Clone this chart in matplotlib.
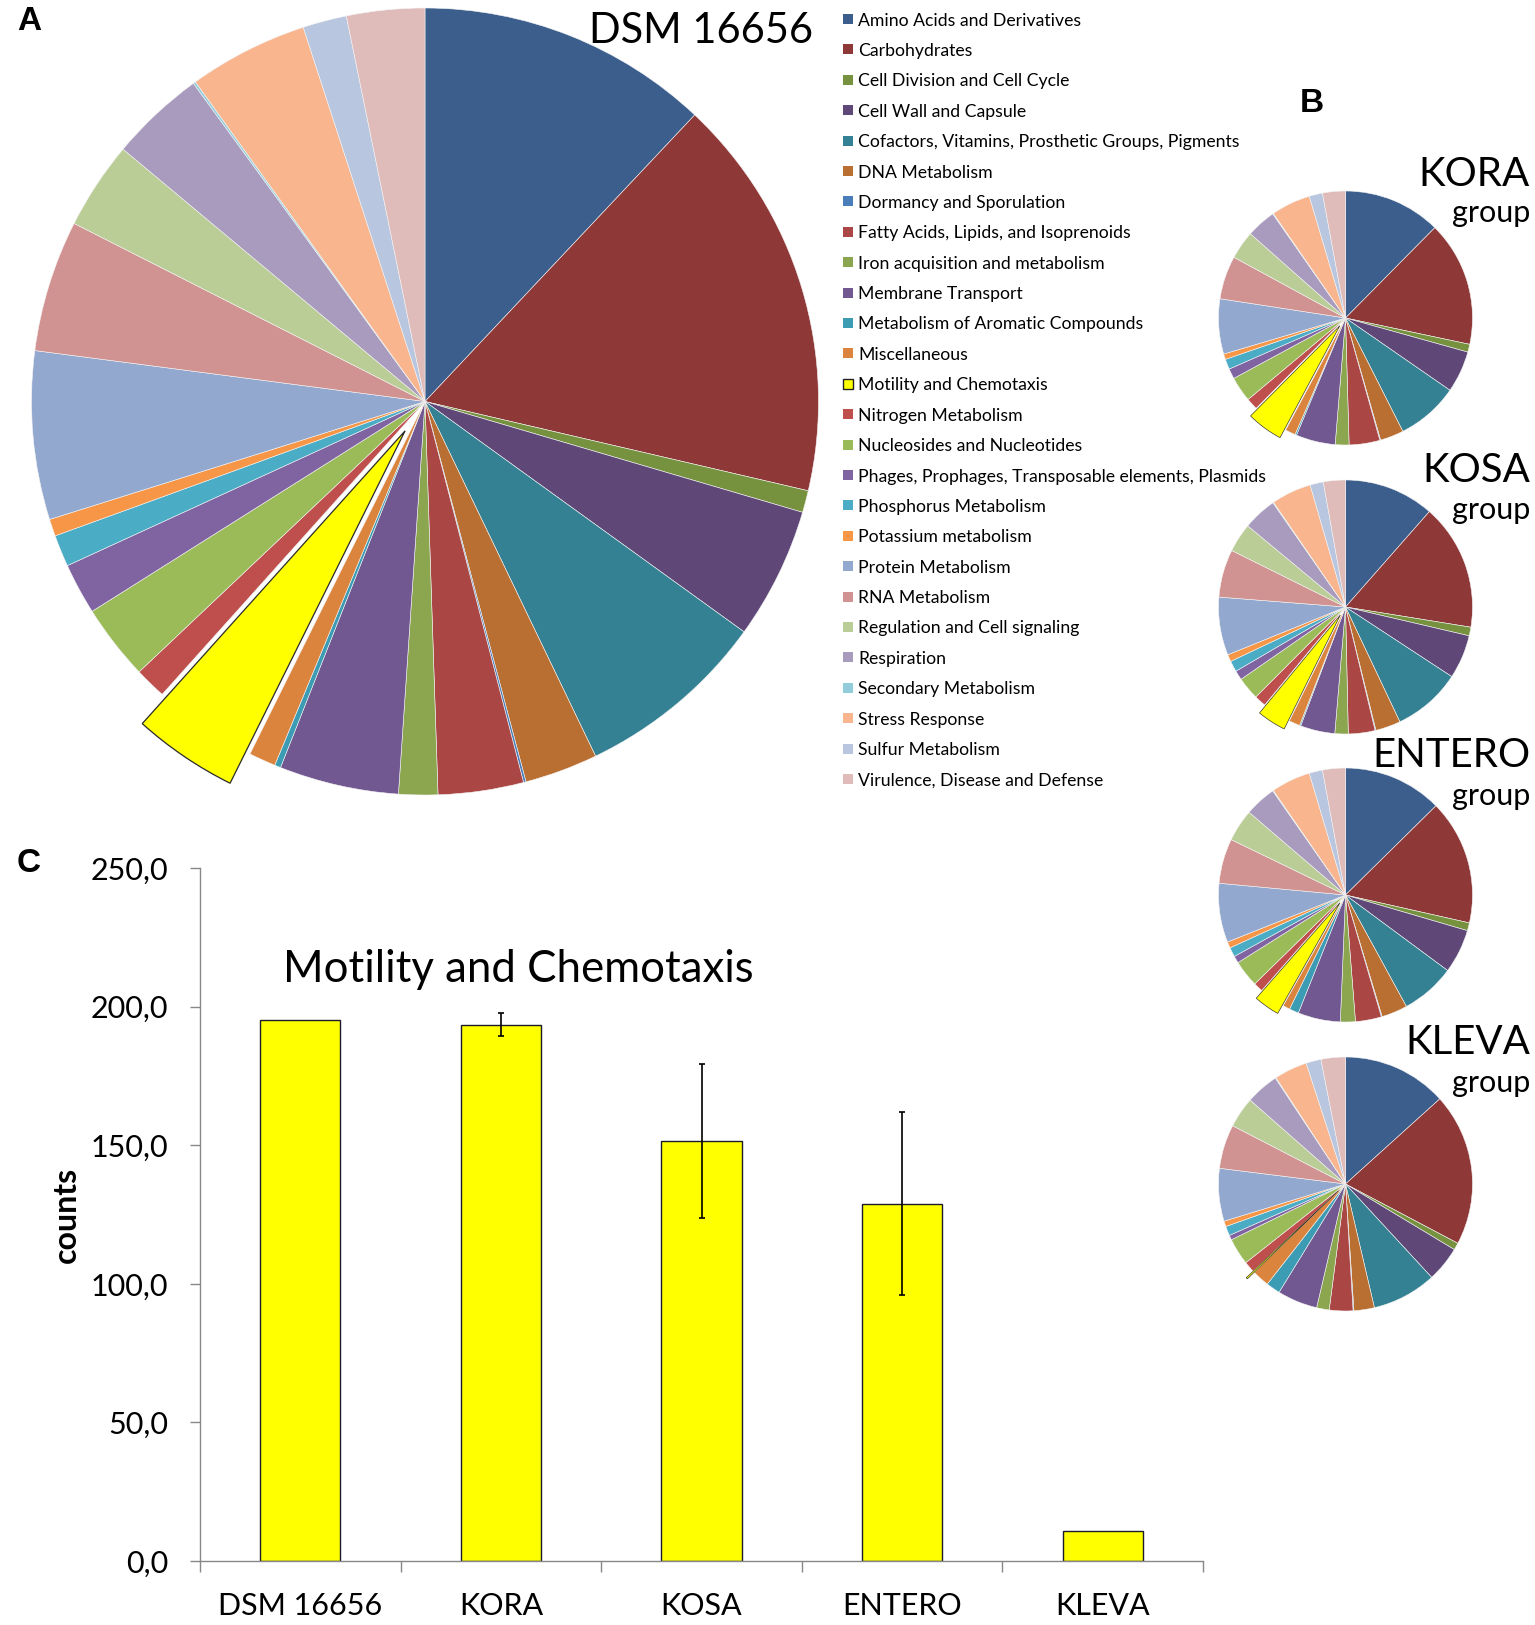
import matplotlib
matplotlib.use("Agg")
import matplotlib.pyplot as plt
from matplotlib.patches import Rectangle

plt.rcParams['font.family'] = ['Lato', 'DejaVu Sans']

# ---------------- data ----------------
categories = [
    "Amino Acids and Derivatives", "Carbohydrates", "Cell Division and Cell Cycle",
    "Cell Wall and Capsule", "Cofactors, Vitamins, Prosthetic Groups, Pigments",
    "DNA Metabolism", "Dormancy and Sporulation", "Fatty Acids, Lipids, and Isoprenoids",
    "Iron acquisition and metabolism", "Membrane Transport",
    "Metabolism of Aromatic Compounds", "Miscellaneous", "Motility and Chemotaxis",
    "Nitrogen Metabolism", "Nucleosides and Nucleotides",
    "Phages, Prophages, Transposable elements, Plasmids", "Phosphorus Metabolism",
    "Potassium metabolism", "Protein Metabolism", "RNA Metabolism",
    "Regulation and Cell signaling", "Respiration", "Secondary Metabolism",
    "Stress Response", "Sulfur Metabolism", "Virulence, Disease and Defense",
]
colors = [
    "#3B5E8C", "#8E3837", "#77923F", "#5F4877", "#358194", "#B96F31", "#4A7EBB",
    "#AA4644", "#8BA64E", "#715890", "#3C9CB4", "#DB843D", "#FFFF00", "#BE4F4C",
    "#9BBB59", "#8064A2", "#4BACC6", "#F79646", "#93A8CF", "#D19392", "#BBCD97",
    "#A99BBD", "#92CDDC", "#F9B58E", "#B9C6DF", "#DFBBBA",
]

# share of subsystem features (%)
dsm_16656 = [12.0, 16.6, 0.9, 5.4, 7.9, 3.0, 0.1, 3.5, 1.6, 4.9, 0.25, 1.1, 4.3,
             1.3, 3.1, 2.1, 1.3, 0.7, 6.9, 5.4, 3.6, 3.9, 0.1, 4.9, 1.8, 3.2]
kora_group = [12.4, 15.9, 1.0, 5.3, 7.9, 3.0, 0.1, 3.9, 1.75, 5.0, 0.2, 1.3, 4.6,
              1.5, 3.2, 1.3, 1.3, 0.7, 7.0, 5.5, 3.6, 3.75, 0.1, 5.0, 1.7, 2.9]
kosa_group = [11.5, 16.1, 1.1, 5.6, 8.75, 3.2, 0.1, 3.4, 1.7, 4.4, 0.15, 1.4, 3.7,
              1.5, 2.9, 1.2, 1.4, 0.9, 7.4, 6.1, 3.7, 4.3, 0.1, 5.1, 1.7, 2.8]
entero_group = [12.6, 15.9, 1.0, 5.6, 6.9, 3.3, 0.1, 3.3, 1.9, 5.4, 1.2, 0.9, 3.3,
                1.2, 3.4, 0.9, 1.2, 0.8, 7.5, 5.7, 4.1, 4.0, 0.1, 5.0, 1.7, 2.9]
kleva_group = [13.3, 19.4, 0.9, 4.5, 8.2, 2.6, 0.1, 3.0, 1.6, 5.1, 1.8, 2.2, 0.2,
               1.4, 3.4, 0.6, 1.2, 0.7, 6.7, 5.6, 3.9, 4.2, 0.1, 4.2, 1.9, 3.1]

group_names = ["KORA", "KOSA", "ENTERO", "KLEVA"]

bar_labels = ["DSM 16656", "KORA", "KOSA", "ENTERO", "KLEVA"]
motility_counts = [195.0, 193.5, 151.6, 128.8, 10.9]
motility_err = [0.0, 4.2, 27.7, 33.0, 0.0]
yticks = [0, 50, 100, 150, 200, 250]
ytick_labels = ["0,0", "50,0", "100,0", "150,0", "200,0", "250,0"]

# ---------------- figure ----------------
W, H = 1535, 1625
fig = plt.figure(figsize=(W / 100, H / 100), dpi=100)
fig.patch.set_facecolor("white")

def fx(px):
    return px / W

def fy(py):
    return 1 - py / H

motility_idx = categories.index("Motility and Chemotaxis")

def draw_pie(cx, cy, r, values, explode_amt, edge_lw):
    pad = 1.15
    half = r * pad
    ax = fig.add_axes([(cx - half) / W, (H - cy - half) / H, 2 * half / W, 2 * half / H])
    explode = [explode_amt if i == motility_idx else 0 for i in range(len(values))]
    wedges, _ = ax.pie(values, colors=colors, startangle=90, counterclock=False,
                       explode=explode,
                       wedgeprops=dict(linewidth=0.4, edgecolor="#f4f4f4"))
    wedges[motility_idx].set_edgecolor("#2a2a2a")
    wedges[motility_idx].set_linewidth(edge_lw)
    wedges[motility_idx].set_zorder(3)
    ax.set_xlim(-pad, pad)
    ax.set_ylim(-pad, pad)
    ax.axis("off")
    return wedges

# Panel A big pie
draw_pie(425, 401.5, 393.5, dsm_16656, 0.09, 0.9)
fig.text(fx(813), fy(43), "DSM 16656", ha="right", va="baseline", fontsize=30)

# Legend (manual)
for i, (cat, col) in enumerate(zip(categories, colors)):
    yc = 19 + i * 30.4
    ec = "#222222" if i == motility_idx else "none"
    lw = 1.0 if i == motility_idx else 0
    fig.patches.append(Rectangle((fx(843.5), fy(yc + 5)), 10 / W, 10 / H,
                                 transform=fig.transFigure, facecolor=col,
                                 edgecolor=ec, linewidth=lw))
    fig.text(fx(858.5), fy(yc + 6.5), cat, ha="left", va="baseline", fontsize=12.7)

# Panel B small pies
small_data = [kora_group, kosa_group, entero_group, kleva_group]
small_cy = [318, 607, 895, 1184]
title_base = [186, 482, 767, 1054]
group_base = [222, 519, 805, 1092]
for name, vals, cy, tb, gb in zip(group_names, small_data, small_cy, title_base, group_base):
    draw_pie(1345.5, cy, 127, vals, 0.075, 0.45)
    fig.text(fx(1530), fy(tb), name, ha="right", va="baseline", fontsize=29)
    fig.text(fx(1530), fy(gb), "group", ha="right", va="baseline", fontsize=22)

# Panel C bar chart
y0, y250 = 1561, 868
axb = fig.add_axes([fx(200), (H - y0) / H, (1203 - 200) / W, (y0 - y250) / H])
xpos = list(range(len(bar_labels)))
axb.bar(xpos, motility_counts, width=0.4, color="#FFFF00", edgecolor="#1a1a2a",
        linewidth=1.0, zorder=2)
err_x = [x for x, e in zip(xpos, motility_err) if e > 0]
err_y = [v for v, e in zip(motility_counts, motility_err) if e > 0]
err_e = [e for e in motility_err if e > 0]
axb.errorbar(err_x, err_y, yerr=err_e, fmt="none", ecolor="black", elinewidth=1.2,
             capsize=2.5, capthick=1.2, zorder=3)
axb.set_xlim(-0.5, len(bar_labels) - 0.5)
axb.set_ylim(0, 250)
axb.set_yticks(yticks)
axb.set_yticklabels(ytick_labels)
axb.set_xticks([x - 0.5 for x in range(len(bar_labels) + 1)])
axb.set_xticklabels([])
axb.set_xticks(xpos, minor=True)
axb.set_xticklabels(bar_labels, minor=True)
axb.tick_params(axis="x", which="major", direction="out", length=8, width=1.0, color="#888888")
axb.tick_params(axis="x", which="minor", length=0, pad=22, labelsize=22)
axb.tick_params(axis="y", direction="out", length=7, width=1.0, color="#888888",
                pad=16, labelsize=22)
for s in ["top", "right"]:
    axb.spines[s].set_visible(False)
for s in ["left", "bottom"]:
    axb.spines[s].set_color("#888888")
    axb.spines[s].set_linewidth(1.0)
axb.set_ylabel("counts", fontsize=23, fontweight="bold", va="center")
axb.yaxis.set_label_coords((66 - 200) / (1203 - 200), 0.5)
fig.text(fx(518.5), fy(981.5), "Motility and Chemotaxis", ha="center", va="baseline", fontsize=31.5)

# Panel letters
for letter, (px, py) in zip("ABC", [(29, 21), (1312, 104), (29, 864)]):
    fig.text(fx(px), fy(py), letter, ha="center", va="center", fontsize=24,
             fontweight="bold", family="Liberation Sans")

fig.savefig("out.png", dpi=100, facecolor="white")
